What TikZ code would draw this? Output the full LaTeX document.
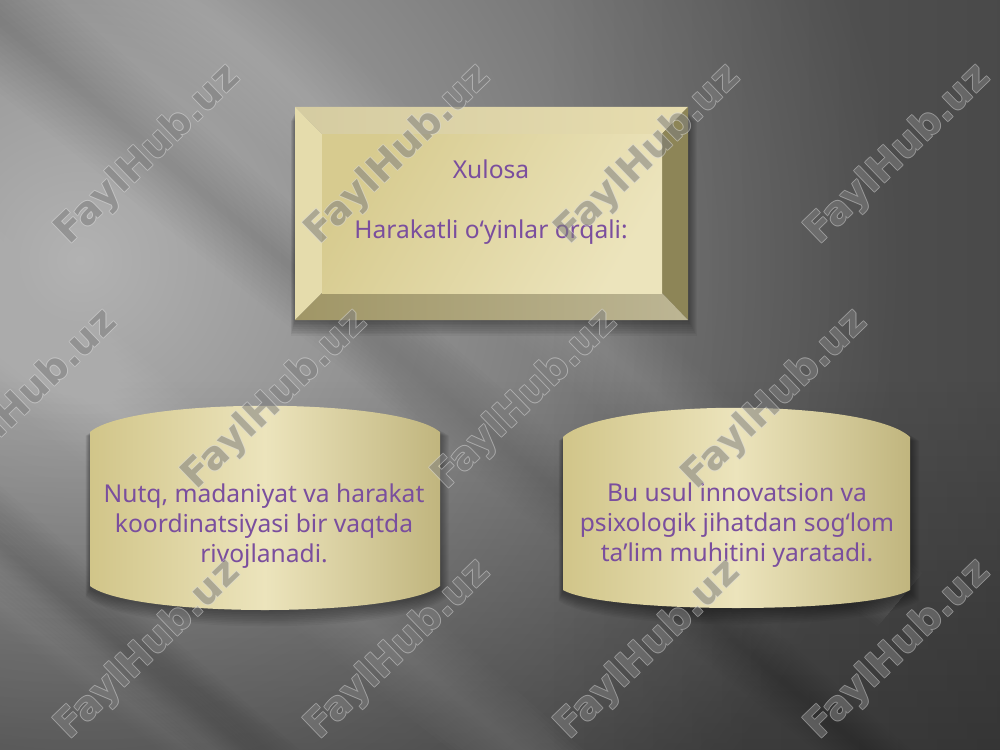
\documentclass[tikz,border=0pt]{standalone}
\usepackage{fontspec}
\setmainfont{Noto Sans}
\newfontfamily\wmfont{DejaVu Sans}
\usetikzlibrary{fadings}
\definecolor{txt}{HTML}{7A4E9E}
\definecolor{bgLight}{HTML}{B2B2B2}
\definecolor{bgBase}{HTML}{5A5A5A}
\definecolor{khakiL}{HTML}{ECE4BC}
\definecolor{khakiM}{HTML}{D7CB8F}
\definecolor{khakiD}{HTML}{D1C589}
\definecolor{bevT}{HTML}{E7DDAF}
\definecolor{bevL}{HTML}{E5DCAC}
\definecolor{bevR}{HTML}{8D8557}
\definecolor{bevB}{HTML}{A09666}
\definecolor{wmfill}{HTML}{7E7E7E}
\definecolor{wmline}{HTML}{D8D8D8}
\tikzset{
  bodytext/.style={text=txt, font=\fontsize{14}{17}\selectfont, align=center},
  wmbase/.style={rotate=44, font=\wmfont\bfseries\fontsize{22}{22}\selectfont, inner sep=0pt},
  wmedge/.style={wmbase, text=wmline},
  wmface/.style={wmbase, text=wmfill},
  shadowlayer/.style={fill=black, opacity=0.045},
}
% soft streak: x1,y1,x2,y2,halfwidth,colour,opacity per layer
\newcommand\softstreak[7]{%
  \foreach \s in {1,...,12}{%
    \pgfmathsetmacro\h{#5*\s/12}%
    \fill[#6, opacity=#7] ({#1-0.643*\h},{#2+0.766*\h}) -- ({#3-0.643*\h/2},{#4+0.766*\h/2})
      -- ({#3+0.643*\h/2},{#4-0.766*\h/2}) -- ({#1+0.643*\h},{#2-0.766*\h}) -- cycle;}}
\newcommand\wmark[3]{%
  \begin{scope}[transparency group, opacity=0.55]
    \node[wmedge] at (#1+1,#2) {FaylHub.uz};
    \node[wmedge] at (#1-1,#2) {FaylHub.uz};
    \node[wmedge] at (#1,#2+1) {FaylHub.uz};
    \node[wmedge] at (#1,#2-1) {FaylHub.uz};
    \node[wmface] (#3) at (#1,#2) {FaylHub.uz};
  \end{scope}}
\begin{document}
\begin{tikzpicture}[x=0.02cm,y=-0.02cm]
\useasboundingbox (0,0) rectangle (1000,750);
\begin{scope}
\clip (0,0) rectangle (1000,750);
% background
\fill[bgBase] (0,0) rectangle (1000,750);
\shade[inner color=bgLight, outer color=bgBase] (80,260) circle (820);
\fill[black, opacity=0.28, path fading=north] (0,380) rectangle (1000,750);
\fill[black, opacity=0.18, path fading=west] (550,0) rectangle (1000,750);
\softstreak{-120}{-80}{900}{780}{60}{black}{0.008}
\softstreak{120}{-60}{900}{600}{70}{white}{0.010}
\softstreak{-140}{200}{700}{900}{70}{white}{0.010}
\softstreak{-150}{420}{500}{960}{50}{black}{0.010}
\softstreak{-60}{520}{500}{990}{45}{white}{0.009}
\end{scope}
% shadows
\foreach \i in {1,...,9}
  \fill[shadowlayer] (295-\i/2,112+\i) rectangle (688+\i,320+1.8*\i);
\foreach \i in {1,...,9}
  \fill[shadowlayer] (90-\i/2,436) .. controls (132,398) and (398,398) .. (440+\i,436)
     -- (440+\i,588+\i) .. controls (398,618+2*\i) and (132,618+2*\i) .. (90-\i/2,588+\i) -- cycle;
\foreach \i in {1,...,9}
  \fill[shadowlayer] (563-\i/2,441) .. controls (605,399) and (868,399) .. (910+\i,441)
     -- (910+\i,592+\i) .. controls (868,614+2*\i) and (605,614+2*\i) .. (563-\i/2,592+\i) -- cycle;
% top bevel box
\shade[left color=bevT!92!black, right color=bevT] (295,107) -- (688,107) -- (662,134) -- (322,134) -- cycle;
\fill[bevL] (295,107) -- (322,134) -- (322,293) -- (295,320) -- cycle;
\fill[bevR] (688,107) -- (688,320) -- (662,293) -- (662,134) -- cycle;
\shade[left color=bevB, right color=bevB!70!white] (295,320) -- (688,320) -- (662,293) -- (322,293) -- cycle;
\shade[left color=khakiM, right color=khakiL, shading angle=60] (322,134) rectangle (662,293);
\node[bodytext] (top) at (491,202) {Xulosa\\[17pt]Harakatli o‘yinlar orqali:};
% left cylinder
\shade[left color=khakiD, right color=khakiD!92!black, middle color=khakiL]
  (90,432) .. controls (132,397) and (398,397) .. (440,432)
  -- (440,586) .. controls (398,618) and (132,618) .. (90,586) -- cycle;
\node[bodytext] (left) at (264,526) {Nutq, madaniyat va harakat\\koordinatsiyasi bir vaqtda\\rivojlanadi.};
% right cylinder
\shade[left color=khakiD, right color=khakiD!92!black, middle color=khakiL]
  (563,437) .. controls (605,398) and (868,398) .. (910,437)
  -- (910,590) .. controls (868,614) and (605,614) .. (563,590) -- cycle;
\node[bodytext] (right) at (737,525) {Bu usul innovatsion va\\psixologik jihatdan sog‘lom\\ta’lim muhitini yaratadi.};
% watermarks
\begin{scope}
\clip (0,0) rectangle (1000,750);
\wmark{148}{155}{wmA}
\wmark{398}{155}{wmB}
\wmark{648}{155}{wmC}
\wmark{898}{155}{wmD}
\wmark{25}{400}{wmE}
\wmark{275}{400}{wmF}
\wmark{525}{400}{wmG}
\wmark{775}{400}{wmH}
\wmark{148}{650}{wmI}
\wmark{398}{650}{wmJ}
\wmark{648}{650}{wmK}
\wmark{898}{650}{wmL}
\end{scope}
\end{tikzpicture}
\end{document}
